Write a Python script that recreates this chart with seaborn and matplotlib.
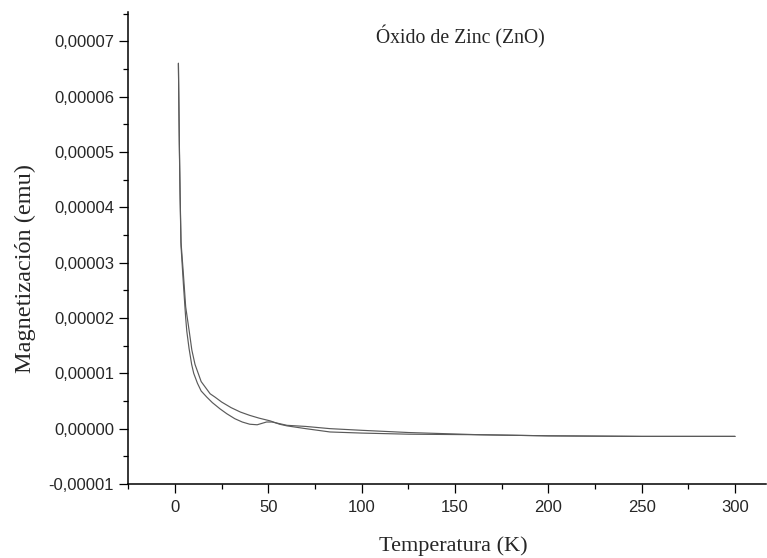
import matplotlib
matplotlib.use("Agg")
import matplotlib.pyplot as plt
import matplotlib.ticker as mticker
import numpy as np
import pandas as pd
import seaborn as sns

# Data (magnetization in units of 1e-5 emu)
t_lower = [1.8, 2.3, 2.7, 3.2, 4.5, 5.7, 6.3, 7.5, 8.9, 10, 12, 14, 17, 20, 24,
           27.7, 32, 36, 40, 44, 47, 49, 52, 56, 60, 70, 83, 100, 125, 163,
           200, 250, 300]
m_lower = [6.6, 5.1, 4.2, 3.3, 2.6, 2.0, 1.76, 1.45, 1.16, 1.0, 0.82, 0.68,
           0.57, 0.47, 0.36, 0.27, 0.18, 0.12, 0.08, 0.07, 0.10, 0.12, 0.12,
           0.09, 0.06, 0.04, 0.0, -0.03, -0.07, -0.11, -0.13, -0.14, -0.14]
t_upper = [1.8, 2.3, 2.7, 3.2, 4.5, 5.7, 7.6, 9, 10.7, 14, 18.8, 21.4, 25, 30,
           35, 40, 45, 51, 56, 60, 70, 83, 100, 125, 163, 200, 250, 300]
m_upper = [6.6, 5.17, 4.27, 3.37, 2.78, 2.2, 1.76, 1.42, 1.16, 0.85, 0.63,
           0.57, 0.48, 0.38, 0.30, 0.24, 0.19, 0.14, 0.08, 0.05, 0.0, -0.06,
           -0.08, -0.10, -0.11, -0.13, -0.14, -0.14]
scale = 1e-5

df = pd.concat([
    pd.DataFrame({"T": t_lower, "M": np.array(m_lower) * scale, "curva": "ZFC"}),
    pd.DataFrame({"T": t_upper, "M": np.array(m_upper) * scale, "curva": "FC"}),
])

sns.set_style("ticks")
plt.rcParams["font.family"] = ["Liberation Sans", "DejaVu Sans"]

fig = plt.figure(figsize=(7.67, 5.58), dpi=100)
ax = fig.add_axes([128/767, 1-484/558, 1-128/767-0.001, (484-12.4)/558])

sns.lineplot(data=df, x="T", y="M", units="curva", estimator=None, sort=False,
             color="#5a5a5a", linewidth=0.85, ax=ax, legend=False)

ax.set_xlim(-25.2, 316.7)
ax.set_ylim(-1e-5, 7.52e-5)
ax.xaxis.set_major_locator(mticker.MultipleLocator(50))
ax.xaxis.set_minor_locator(mticker.MultipleLocator(25))
ax.yaxis.set_major_locator(mticker.MultipleLocator(1e-5))
ax.yaxis.set_minor_locator(mticker.MultipleLocator(0.5e-5))
ax.yaxis.set_major_formatter(mticker.FuncFormatter(
    lambda v, p: ("%.5f" % v).replace(".", ",").replace("-0,00000", "0,00000")))
ax.xaxis.set_major_formatter(mticker.FuncFormatter(lambda v, p: "%d" % v))

for s in ["top", "right"]:
    ax.spines[s].set_visible(False)
for s in ["left", "bottom"]:
    ax.spines[s].set_linewidth(1.1)
    ax.spines[s].set_color("black")

ax.tick_params(which="major", direction="out", length=6.5, width=0.9,
               labelsize=12, color="black", pad=3.5)
ax.tick_params(which="minor", direction="out", length=3.6, width=0.9, color="black")
ax.tick_params(axis="x", which="major", pad=5)

serif = ["Liberation Serif", "DejaVu Serif"]
ax.set_xlabel("Temperatura (K)", fontsize=16, family=serif)
ax.set_ylabel("Magnetización (emu)", fontsize=17.5, family=serif)
ax.xaxis.set_label_coords(0.509, -0.110)
ax.yaxis.set_label_coords(-0.144, 0.458)
ax.text(153, 7.0e-5 + (41-37)/55.4*1e-5, "Óxido de Zinc (ZnO)", fontsize=14.2,
        family=serif, ha="center", va="center")

fig.savefig("out.png", dpi=100)
